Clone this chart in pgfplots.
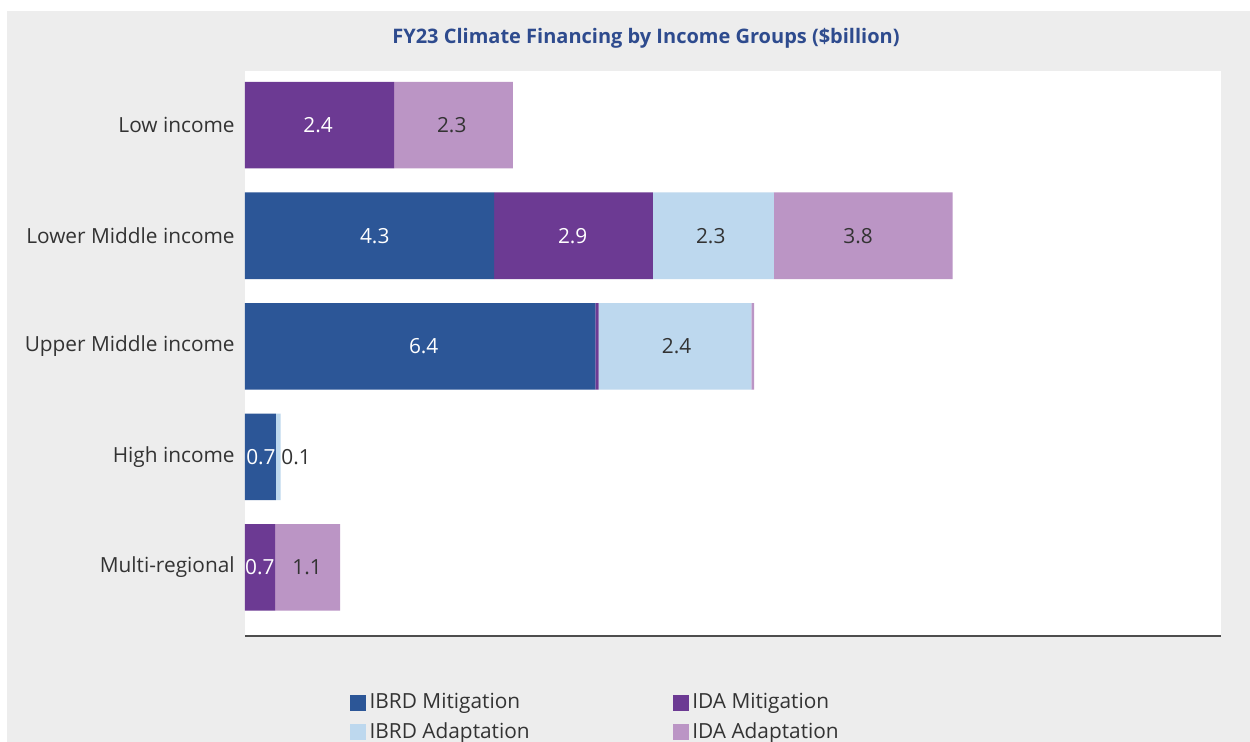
\documentclass[border=0pt]{standalone}
\usepackage{pgfplots}
\pgfplotsset{compat=1.18}
\usepackage{pgfplotstable}
\usepackage{fontspec}
\setmainfont{Open Sans}
\definecolor{bg}{HTML}{EDEDED}
\definecolor{ibrdm}{HTML}{2C5697}
\definecolor{idam}{HTML}{6C3A93}
\definecolor{ibrda}{HTML}{BDD8EE}
\definecolor{idaa}{HTML}{BB95C5}
\definecolor{ttl}{HTML}{2E4B8E}
\definecolor{txt}{HTML}{333333}
\definecolor{axl}{HTML}{4D4D4D}
\pgfplotstableread{
cat ibrdm idam ibrda idaa
0 0    2.71 0    2.16
1 4.53 2.89 2.20 3.25
2 6.37 0.06 2.78 0.05
3 0.56 0    0.09 0
4 0    0.55 0    1.18
}\fin
\pgfplotstableread{
x y lab
1.33 0 2.4
2.36 1 4.3
5.96 1 2.9
3.25 2 6.4
0.29 3 0.7
0.27 4 0.7
}\whitelab
\pgfplotstableread{
x y lab
3.76 0 2.3
8.47 1 2.3
11.15 1 3.8
7.85 2 2.4
0.93 3 0.1
1.13 4 1.1
}\darklab
\begin{document}
\begin{tikzpicture}[x=0.6pt,y=0.6pt]
\path[use as bounding box] (0,0) rectangle (1250,742);
\clip (0,0) rectangle (1250,742);
\fill[white] (0,0) rectangle (1250,742);
\fill[bg] (7,0) rectangle (1250,731);
\node[text=ttl, font=\fontsize{12}{14}\selectfont\bfseries] at (646,704) {FY23 Climate Financing by Income Groups (\$billion)};
\pgfplotsset{base/.style={
  scale only axis, width=585.6pt, height=339pt,
  at={(147pt,63.6pt)}, anchor=south west,
  xmin=0, xmax=17.75, ymin=-0.49, ymax=4.62, y dir=reverse,
}}
\begin{axis}[base,
  xbar stacked, bar width=0.783,
  axis background/.style={fill=white},
  axis line style={draw=none},
  xtick=\empty,
  ytick={0,1,2,3,4},
  yticklabels={Low income, Lower Middle income, Upper Middle income, High income, Multi-regional},
  major tick length=0pt,
  yticklabel style={font=\fontsize{12.5}{14}\selectfont, text=txt, anchor=east, inner sep=0pt, xshift=-6pt},
  legend columns=2,
  legend cell align=left,
  legend style={at={(0.1076,-0.0956)}, anchor=north west, draw=none, fill=none, inner sep=0pt,
    font=\fontsize{12.5}{14}\selectfont, text=txt, row sep=3pt,
    /tikz/every even column/.append style={column sep=84pt}},
  legend image code/.code={\fill[#1] (0pt,-4.8pt) rectangle (9.6pt,4.8pt);},
]
\addplot[fill=ibrdm, draw=none] table[x=ibrdm, y=cat] {\fin};
\addplot[fill=idam, draw=none] table[x=idam, y=cat] {\fin};
\addplot[fill=ibrda, draw=none] table[x=ibrda, y=cat] {\fin};
\addplot[fill=idaa, draw=none] table[x=idaa, y=cat] {\fin};
\legend{IBRD Mitigation, IDA Mitigation, IBRD Adaptation, IDA Adaptation}
\end{axis}
\begin{axis}[base, hide axis]
\addplot[draw=none, mark=none, nodes near coords, point meta=explicit symbolic,
  every node near coord/.style={anchor=center, text=white, font=\fontsize{12.5}{14}\selectfont}]
  table[x=x, y=y, meta=lab] {\whitelab};
\addplot[draw=none, mark=none, nodes near coords, point meta=explicit symbolic,
  every node near coord/.style={anchor=center, text=txt, font=\fontsize{12.5}{14}\selectfont}]
  table[x=x, y=y, meta=lab] {\darklab};
\end{axis}
\draw[axl, line width=1.3pt] (245,106) -- (1221,106);
\end{tikzpicture}
\end{document}
